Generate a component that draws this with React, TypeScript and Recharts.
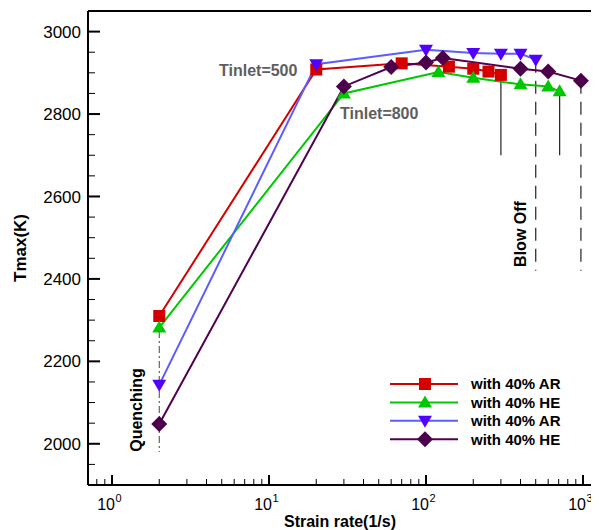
import React from 'react';
import { LineChart, Line, XAxis, YAxis, ReferenceLine, Legend } from 'recharts';

// ---- data ----
const redX = [2, 20, 70, 140, 200, 250, 300];
const redY = [2310, 2908, 2923, 2915, 2910, 2903, 2895];

const greenX = [2, 30, 120, 200, 400, 600, 710];
const greenY = [2282, 2850, 2902, 2888, 2872, 2867, 2855];

const blueX = [2, 20, 100, 200, 300, 400, 500];
const blueY = [2143, 2921, 2956, 2948, 2946, 2946, 2932];

const purpleX = [2, 30, 60, 100, 128, 400, 600, 970];
const purpleY = [2048, 2867, 2914, 2925, 2936, 2910, 2903, 2881];

const seriesNames = ['with 40% AR', 'with 40% HE', 'with 40% AR', 'with 40% HE'];

const yTicks = [1950, 2000, 2050, 2100, 2150, 2200, 2250, 2300, 2350, 2400, 2450, 2500, 2550, 2600, 2650, 2700, 2750, 2800, 2850, 2900, 2950, 3000];
const yMajor = [2000, 2200, 2400, 2600, 2800, 3000];
const xTicks = [0.8, 0.9, 1, 2, 3, 4, 5, 6, 7, 8, 9, 10, 20, 30, 40, 50, 60, 70, 80, 90, 100, 200, 300, 400, 500, 600, 700, 800, 900, 1000];
const xMajor = [1, 10, 100, 1000];

// vertical marker lines
const solidDropX = [300, 710];
const solidDropTop = [2895, 2855];
const solidDropBottom = 2700;
const dashedDropX = [500, 970];
const dashedDropTop = [2932, 2881];
const dashedDropBottom = 2420;
const quenchX = 2;
const quenchTop = 2310;
const quenchBottom = 1980;

const X_MIN = 0.7033;
const X_MAX = 1585;
const Y_MIN = 1900;
const Y_MAX = 3050;

const FONT = '"Liberation Sans", Arial, Helvetica, sans-serif';

const toPts = (xs: number[], ys: number[]) => xs.map((x, i) => ({ x, y: ys[i] }));
const redData = toPts(redX, redY);
const greenData = toPts(greenX, greenY);
const blueData = toPts(blueX, blueY);
const purpleData = toPts(purpleX, purpleY);

const C = {
  redLine: '#d40000', redMark: '#d40000',
  greenLine: '#00c800', greenMark: '#00c800',
  blueLine: '#5c5cff', blueMark: '#5000ff',
  purpleLine: '#520052', purpleMark: '#4c004c',
};

const square = (cx: number, cy: number, fill: string, key?: any) => (
  <rect key={key} x={cx - 6} y={cy - 6} width={12} height={12} fill={fill} />
);
const triUp = (cx: number, cy: number, fill: string, key?: any) => (
  <polygon key={key} points={`${cx},${cy - 7} ${cx + 7},${cy + 5} ${cx - 7},${cy + 5}`} fill={fill} />
);
const triDown = (cx: number, cy: number, fill: string, key?: any) => (
  <polygon key={key} points={`${cx - 7},${cy - 5} ${cx + 7},${cy - 5} ${cx},${cy + 7}`} fill={fill} />
);
const diamond = (cx: number, cy: number, fill: string, key?: any) => (
  <polygon key={key} points={`${cx},${cy - 8} ${cx + 8},${cy} ${cx},${cy + 8} ${cx - 8},${cy}`} fill={fill} />
);

const mkDot = (fn: any, fill: string) => (p: any) => {
  if (p.cx == null || p.cy == null) return <g key={p.index} />;
  return fn(p.cx, p.cy, fill, `d${p.index}`);
};

const XTick = (props: any) => {
  const { x, y, payload } = props;
  const v = payload.value;
  const major = xMajor.includes(v);
  const exp = Math.round(Math.log10(v));
  return (
    <g>
      <line x1={x} x2={x} y1={y} y2={y - (major ? 10 : 6)} stroke="#000" strokeWidth={major ? 2 : 1} />
      {major && (
        <text x={x + 3} y={y + 25} textAnchor="end" fontSize={16} fontFamily={FONT} fill="#000">10</text>
      )}
      {major && (
        <text x={x + 3.5} y={y + 17} textAnchor="start" fontSize={11} fontFamily={FONT} fill="#000">{exp}</text>
      )}
    </g>
  );
};

const YTick = (props: any) => {
  const { x, y, payload } = props;
  const v = payload.value;
  const major = yMajor.includes(v);
  return (
    <g>
      <line x1={x} x2={x + (major ? 12 : 7)} y1={y} y2={y} stroke="#000" strokeWidth={major ? 2 : 1} />
      {major && (
        <text x={x - 7} y={y} dy="0.36em" textAnchor="end" fontSize={17} fontFamily={FONT} fill="#000">{v}</text>
      )}
    </g>
  );
};

const legendRows = [
  { name: seriesNames[0], line: C.redLine, mark: C.redMark, fn: square },
  { name: seriesNames[1], line: C.greenLine, mark: C.greenMark, fn: triUp },
  { name: seriesNames[2], line: C.blueLine, mark: C.blueMark, fn: triDown },
  { name: seriesNames[3], line: C.purpleLine, mark: C.purpleMark, fn: diamond },
];

const LegendBox = () => (
  <svg width={200} height={80} style={{ display: 'block' }}>
    {legendRows.map((r, i) => {
      const cy = 10 + i * 18.4;
      return (
        <g key={i}>
          <line x1={8} x2={76} y1={cy} y2={cy} stroke={r.line} strokeWidth={2} />
          {r.fn(43, cy, r.mark)}
          <text x={89} y={cy} dy="0.36em" fontSize={15} fontWeight="bold" fontFamily={FONT} fill="#000">{r.name}</text>
        </g>
      );
    })}
  </svg>
);

export default function App() {
  return (
    <div style={{ position: 'relative', width: 591, height: 522, overflow: 'hidden', background: '#fff' }}>
      <LineChart width={610} height={522} margin={{ top: 3, right: 3.6, left: 0, bottom: 0 }}>
        <XAxis
          type="number"
          dataKey="x"
          scale="log"
          domain={[X_MIN, X_MAX]}
          allowDataOverflow
          ticks={xTicks}
          interval={0}
          tick={<XTick />}
          tickLine={false}
          tickSize={0}
          tickMargin={0}
          height={45}
          axisLine={{ stroke: '#000', strokeWidth: 2 }}
        />
        <YAxis
          type="number"
          dataKey="y"
          domain={[Y_MIN, Y_MAX]}
          allowDataOverflow
          ticks={yTicks}
          interval={0}
          tick={<YTick />}
          tickLine={false}
          tickSize={0}
          tickMargin={0}
          width={80}
          axisLine={{ stroke: '#000', strokeWidth: 2 }}
        />
        <ReferenceLine y={Y_MAX} stroke="#000" strokeWidth={2} />
        {solidDropX.map((x, i) => (
          <ReferenceLine key={`s${i}`} segment={[{ x, y: solidDropTop[i] }, { x, y: solidDropBottom }]} stroke="#222" strokeWidth={1.2} />
        ))}
        {dashedDropX.map((x, i) => (
          <ReferenceLine key={`d${i}`} segment={[{ x, y: dashedDropTop[i] }, { x, y: dashedDropBottom }]} stroke="#222" strokeWidth={1.2} strokeDasharray="13 8" />
        ))}
        <ReferenceLine segment={[{ x: quenchX, y: quenchTop }, { x: quenchX, y: quenchBottom }]} stroke="#444" strokeWidth={1} strokeDasharray="7 3 2 3" />
        <Line data={redData} dataKey="y" stroke={C.redLine} strokeWidth={2} dot={mkDot(square, C.redMark)} isAnimationActive={false} />
        <Line data={greenData} dataKey="y" stroke={C.greenLine} strokeWidth={2} dot={mkDot(triUp, C.greenMark)} isAnimationActive={false} />
        <Line data={blueData} dataKey="y" stroke={C.blueLine} strokeWidth={2} dot={mkDot(triDown, C.blueMark)} isAnimationActive={false} />
        <Line data={purpleData} dataKey="y" stroke={C.purpleLine} strokeWidth={2} dot={mkDot(diamond, C.purpleMark)} isAnimationActive={false} />
        <Legend
          layout="horizontal"
          verticalAlign="middle"
          align="center"
          wrapperStyle={{ position: 'absolute', left: 374, top: 366, width: 200, height: 80 }}
          content={() => <LegendBox />}
        />
      </LineChart>
      <svg width={591} height={522} style={{ position: 'absolute', left: 0, top: 0, pointerEvents: 'none' }}>
        <text x={211} y={68} fontSize={16} fontWeight="bold" fontFamily={FONT} fill="#5e5e5e">Tinlet=500</text>
        <text x={332} y={111} fontSize={16} fontWeight="bold" fontFamily={FONT} fill="#5e5e5e">Tinlet=800</text>
        <text transform="translate(518,226) rotate(-90)" textAnchor="middle" fontSize={16} fontWeight="bold" fontFamily={FONT} fill="#000">Blow Off</text>
        <text transform="translate(134,402) rotate(-90)" textAnchor="middle" fontSize={16} fontWeight="bold" fontFamily={FONT} fill="#000">Quenching</text>
        <text transform="translate(18,240) rotate(-90)" textAnchor="middle" fontSize={17} fontWeight="bold" fontFamily={FONT} fill="#000">Tmax(K)</text>
        <text x={332} y={519} textAnchor="middle" fontSize={16} fontWeight="bold" fontFamily={FONT} fill="#000">Strain rate(1/s)</text>
      </svg>
    </div>
  );
}
